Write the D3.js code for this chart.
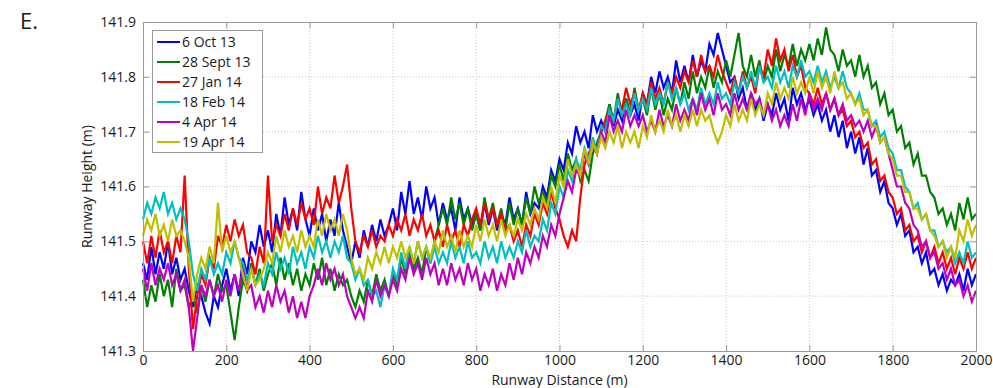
<!DOCTYPE html>
<html>
<head>
<meta charset="utf-8">
<script src="https://cdn.jsdelivr.net/npm/d3@7"></script>
<style>
  body { margin: 0; background: #fff; }
  svg { display: block; }
</style>
</head>
<body>
<div id="chart"></div>
<script>
let distances = d3.range(0, 2001, 10);

let oct13 = [
  141.46,141.43,141.49,141.44,141.48,141.45,141.50,141.44,141.47,141.43,
  141.45,141.41,141.38,141.42,141.40,141.37,141.35,141.40,141.38,141.42,
  141.45,141.41,141.44,141.40,141.47,141.44,141.50,141.48,141.53,141.49,
  141.52,141.48,141.55,141.51,141.58,141.53,141.56,141.52,141.59,141.54,
  141.51,141.56,141.52,141.55,141.50,141.54,141.51,141.57,141.52,141.49,
  141.46,141.50,141.47,141.52,141.49,141.53,141.50,141.54,141.51,141.53,
  141.56,141.52,141.59,141.55,141.61,141.55,141.58,141.54,141.60,141.56,
  141.58,141.53,141.57,141.54,141.56,141.52,141.58,141.54,141.56,141.53,
  141.55,141.52,141.57,141.53,141.56,141.52,141.55,141.53,141.58,141.54,
  141.56,141.53,141.59,141.55,141.57,141.56,141.60,141.58,141.63,141.61,
  141.65,141.63,141.68,141.66,141.71,141.68,141.70,141.67,141.73,141.70,
  141.72,141.70,141.75,141.71,141.74,141.72,141.76,141.73,141.75,141.72,
  141.77,141.75,141.80,141.77,141.81,141.78,141.80,141.77,141.83,141.79,
  141.82,141.79,141.84,141.80,141.83,141.81,141.86,141.84,141.88,141.85,
  141.82,141.79,141.80,141.76,141.78,141.74,141.77,141.74,141.76,141.72,
  141.75,141.73,141.77,141.74,141.76,141.72,141.78,141.75,141.77,141.74,
  141.76,141.73,141.75,141.72,141.74,141.70,141.73,141.69,141.72,141.67,
  141.70,141.66,141.69,141.64,141.67,141.62,141.63,141.59,141.61,141.57,
  141.56,141.53,141.55,141.51,141.52,141.48,141.49,141.46,141.48,141.44,
  141.45,141.42,141.44,141.41,141.43,141.42,141.44,141.41,141.45,141.42,
  141.44];

let sept13 = [
  141.43,141.38,141.42,141.39,141.44,141.40,141.43,141.38,141.45,141.41,
  141.42,141.38,141.40,141.37,141.42,141.39,141.43,141.40,141.44,141.41,
  141.42,141.37,141.32,141.38,141.43,141.41,141.46,141.42,141.45,141.41,
  141.44,141.46,141.42,141.47,141.43,141.46,141.42,141.45,141.41,141.44,
  141.42,141.46,141.43,141.47,141.42,141.45,141.41,141.44,141.42,141.43,
  141.40,141.38,141.41,141.39,141.43,141.40,141.44,141.41,141.43,141.40,
  141.44,141.42,141.47,141.44,141.48,141.45,141.47,141.44,141.49,141.46,
  141.50,141.53,141.56,141.53,141.58,141.54,141.57,141.53,141.56,141.52,
  141.55,141.52,141.58,141.54,141.57,141.53,141.56,141.52,141.57,141.53,
  141.56,141.53,141.58,141.55,141.60,141.57,141.59,141.57,141.62,141.60,
  141.64,141.61,141.66,141.63,141.65,141.61,141.63,141.61,141.66,141.68,
  141.70,141.72,141.75,141.72,141.77,141.73,141.76,141.73,141.78,141.74,
  141.76,141.73,141.78,141.74,141.77,141.73,141.76,141.74,141.78,141.75,
  141.79,141.76,141.81,141.77,141.80,141.78,141.82,141.78,141.81,141.79,
  141.83,141.80,141.84,141.88,141.82,141.80,141.84,141.80,141.83,141.79,
  141.82,141.80,141.85,141.81,141.84,141.82,141.86,141.82,141.85,141.83,
  141.86,141.83,141.87,141.84,141.89,141.85,141.84,141.81,141.85,141.82,
  141.83,141.80,141.84,141.80,141.82,141.78,141.79,141.75,141.77,141.73,
  141.74,141.70,141.71,141.67,141.68,141.64,141.66,141.62,141.62,141.59,
  141.58,141.55,141.56,141.53,141.55,141.52,141.57,141.54,141.58,141.54,
  141.55];

let jan14 = [
  141.50,141.46,141.51,141.47,141.52,141.48,141.50,141.46,141.51,141.48,
  141.62,141.45,141.34,141.40,141.44,141.42,141.47,141.45,141.51,141.49,
  141.53,141.50,141.54,141.51,141.53,141.48,141.47,141.44,141.49,141.46,
  141.62,141.50,141.53,141.51,141.55,141.52,141.56,141.53,141.57,141.54,
  141.56,141.53,141.60,141.55,141.58,141.56,141.62,141.57,141.60,141.64,
  141.56,141.50,141.48,141.51,141.49,141.52,141.49,141.51,141.50,141.53,
  141.51,141.54,141.52,141.55,141.51,141.54,141.52,141.55,141.51,141.53,
  141.50,141.52,141.49,141.53,141.50,141.52,141.49,141.53,141.51,141.54,
  141.56,141.53,141.57,141.54,141.56,141.53,141.55,141.52,141.53,141.50,
  141.52,141.49,141.53,141.51,141.55,141.53,141.57,141.55,141.59,141.56,
  141.54,141.51,141.49,141.52,141.50,141.58,141.64,141.66,141.68,141.66,
  141.70,141.72,141.74,141.72,141.76,141.74,141.78,141.75,141.77,141.74,
  141.77,141.75,141.79,141.76,141.78,141.75,141.79,141.77,141.80,141.78,
  141.81,141.79,141.83,141.80,141.84,141.81,141.82,141.80,141.84,141.81,
  141.79,141.77,141.80,141.77,141.81,141.78,141.80,141.77,141.82,141.80,
  141.85,141.82,141.87,141.83,141.85,141.81,141.84,141.80,141.82,141.78,
  141.77,141.75,141.78,141.75,141.77,141.74,141.76,141.73,141.74,141.71,
  141.72,141.69,141.70,141.67,141.68,141.64,141.65,141.61,141.62,141.59,
  141.58,141.55,141.56,141.52,141.53,141.50,141.51,141.48,141.50,141.47,
  141.49,141.46,141.48,141.45,141.47,141.44,141.47,141.45,141.48,141.45,
  141.47];

let feb14 = [
  141.54,141.57,141.55,141.58,141.56,141.59,141.55,141.57,141.54,141.56,
  141.54,141.50,141.44,141.41,141.45,141.43,141.47,141.44,141.46,141.44,
  141.48,141.46,141.50,141.47,141.46,141.43,141.45,141.42,141.44,141.42,
  141.46,141.44,141.48,141.45,141.47,141.44,141.49,141.46,141.48,141.45,
  141.49,141.47,141.51,141.48,141.50,141.47,141.50,141.48,141.51,141.47,
  141.46,141.43,141.45,141.42,141.43,141.40,141.41,141.38,141.42,141.40,
  141.45,141.43,141.48,141.45,141.49,141.46,141.50,141.47,141.49,141.46,
  141.49,141.46,141.48,141.46,141.50,141.47,141.49,141.46,141.50,141.47,
  141.48,141.46,141.50,141.47,141.49,141.46,141.50,141.47,141.49,141.47,
  141.50,141.48,141.52,141.49,141.51,141.50,141.54,141.52,141.57,141.55,
  141.60,141.58,141.63,141.61,141.65,141.63,141.67,141.65,141.69,141.66,
  141.71,141.70,141.74,141.72,141.76,141.73,141.75,141.73,141.77,141.74,
  141.76,141.74,141.78,141.75,141.77,141.75,141.79,141.76,141.78,141.75,
  141.77,141.74,141.76,141.74,141.78,141.75,141.77,141.75,141.79,141.76,
  141.77,141.75,141.79,141.77,141.80,141.78,141.81,141.78,141.82,141.79,
  141.80,141.78,141.82,141.79,141.81,141.78,141.82,141.80,141.83,141.80,
  141.81,141.79,141.82,141.79,141.81,141.78,141.80,141.78,141.81,141.78,
  141.77,141.75,141.77,141.74,141.74,141.71,141.72,141.69,141.70,141.67,
  141.66,141.63,141.63,141.60,141.59,141.56,141.57,141.54,141.55,141.52,
  141.52,141.49,141.50,141.48,141.49,141.46,141.48,141.46,141.50,141.47,
  141.48];

let apr4 = [
  141.45,141.41,141.46,141.42,141.45,141.43,141.46,141.42,141.44,141.41,
  141.43,141.38,141.30,141.36,141.42,141.40,141.43,141.40,141.42,141.39,
  141.43,141.40,141.44,141.41,141.45,141.41,141.42,141.38,141.40,141.37,
  141.41,141.38,141.42,141.39,141.41,141.37,141.40,141.36,141.39,141.36,
  141.40,141.42,141.45,141.42,141.46,141.43,141.45,141.42,141.44,141.40,
  141.38,141.36,141.38,141.36,141.41,141.39,141.43,141.40,141.42,141.40,
  141.43,141.41,141.45,141.43,141.47,141.44,141.46,141.43,141.47,141.44,
  141.46,141.42,141.45,141.42,141.46,141.43,141.45,141.42,141.46,141.43,
  141.45,141.41,141.44,141.42,141.45,141.41,141.44,141.42,141.46,141.43,
  141.47,141.44,141.48,141.46,141.49,141.47,141.51,141.49,141.53,141.51,
  141.55,141.58,141.61,141.59,141.63,141.62,141.66,141.64,141.68,141.66,
  141.70,141.68,141.73,141.70,141.72,141.70,141.74,141.71,141.73,141.71,
  141.73,141.70,141.72,141.70,141.74,141.71,141.73,141.71,141.75,141.72,
  141.74,141.72,141.76,141.73,141.77,141.74,141.76,141.73,141.77,141.74,
  141.75,141.73,141.77,141.74,141.76,141.74,141.77,141.75,141.76,141.73,
  141.75,141.72,141.74,141.71,141.73,141.71,141.75,141.72,141.76,141.73,
  141.77,141.74,141.76,141.74,141.77,141.74,141.76,141.73,141.75,141.72,
  141.73,141.71,141.72,141.70,141.72,141.69,141.71,141.68,141.69,141.66,
  141.63,141.60,141.60,141.57,141.56,141.53,141.52,141.49,141.50,141.47,
  141.48,141.45,141.46,141.43,141.45,141.42,141.43,141.40,141.42,141.39,
  141.41];

let apr19 = [
  141.51,141.54,141.52,141.55,141.51,141.53,141.50,141.54,141.51,141.52,
  141.50,141.47,141.39,141.44,141.47,141.45,141.49,141.46,141.57,141.48,
  141.51,141.48,141.50,141.47,141.44,141.41,141.45,141.42,141.43,141.45,
  141.48,141.46,141.51,141.48,141.52,141.49,141.51,141.48,141.52,141.49,
  141.51,141.49,141.54,141.51,141.55,141.52,141.54,141.51,141.55,141.52,
  141.47,141.44,141.45,141.43,141.47,141.45,141.48,141.46,141.49,141.46,
  141.49,141.47,141.50,141.47,141.49,141.46,141.50,141.47,141.49,141.47,
  141.50,141.48,141.52,141.49,141.51,141.48,141.52,141.49,141.51,141.49,
  141.53,141.50,141.54,141.51,141.53,141.50,141.54,141.51,141.53,141.51,
  141.54,141.52,141.55,141.53,141.56,141.54,141.58,141.56,141.60,141.57,
  141.62,141.60,141.65,141.62,141.64,141.62,141.67,141.64,141.68,141.66,
  141.69,141.67,141.70,141.68,141.71,141.67,141.70,141.68,141.70,141.67,
  141.71,141.69,141.73,141.70,141.72,141.70,141.74,141.71,141.73,141.70,
  141.73,141.71,141.74,141.71,141.74,141.72,141.73,141.70,141.68,141.70,
  141.73,141.71,141.75,141.72,141.74,141.72,141.76,141.73,141.75,141.73,
  141.77,141.75,141.79,141.76,141.78,141.76,141.80,141.77,141.79,141.77,
  141.80,141.77,141.81,141.78,141.80,141.77,141.81,141.78,141.79,141.76,
  141.77,141.75,141.76,141.73,141.74,141.71,141.71,141.68,141.69,141.66,
  141.65,141.62,141.62,141.59,141.59,141.56,141.56,141.54,141.55,141.52,
  141.51,141.49,141.50,141.47,141.49,141.47,141.52,141.50,141.54,141.51,
  141.53];

let seriesNames = ["6 Oct 13", "28 Sept 13", "27 Jan 14", "18 Feb 14", "4 Apr 14", "19 Apr 14"];
let seriesValues = [oct13, sept13, jan14, feb14, apr4, apr19];
let seriesColors = ["#0000ff", "#008000", "#ff0000", "#00bfbf", "#bf00bf", "#bfbf00"];

let xTicks = d3.range(0, 2001, 200);
let yTicks = [141.3, 141.4, 141.5, 141.6, 141.7, 141.8, 141.9];

let svgWidth = 993;
let svgHeight = 388;
let plotLeft = 143, plotRight = 976, plotTop = 22, plotBottom = 351;

let xScale = d3.scaleLinear().domain([0, 2000]).range([plotLeft, plotRight]);
let yScale = d3.scaleLinear().domain([141.3, 141.9]).range([plotBottom, plotTop]);

let svg = d3.select("#chart")
  .append("svg")
  .attr("width", svgWidth)
  .attr("height", svgHeight);

// dotted grid
svg.append("g")
  .selectAll("line")
  .data(xTicks.slice(1, -1))
  .enter()
  .append("line")
  .attr("x1", d => xScale(d)).attr("x2", d => xScale(d))
  .attr("y1", plotTop).attr("y2", plotBottom)
  .attr("stroke", "#c8c8c8")
  .attr("stroke-dasharray", "1,2");

svg.append("g")
  .selectAll("line")
  .data(yTicks.slice(1, -1))
  .enter()
  .append("line")
  .attr("x1", plotLeft).attr("x2", plotRight)
  .attr("y1", d => yScale(d)).attr("y2", d => yScale(d))
  .attr("stroke", "#c8c8c8")
  .attr("stroke-dasharray", "1,2");

// lines
let line = d3.line()
  .x((d, i) => xScale(distances[i]))
  .y(d => yScale(d));

svg.append("g")
  .selectAll("path")
  .data(seriesValues)
  .enter()
  .append("path")
  .attr("d", line)
  .attr("fill", "none")
  .attr("stroke", (d, i) => seriesColors[i])
  .attr("stroke-width", 2.2);

// axes (MATLAB style: ticks inside, box on)
let textFont = "'Open Sans', sans-serif";

function styleAxis(g) {
  g.select(".domain").attr("stroke", "#999");
  g.selectAll(".tick line").attr("stroke", "#999");
  g.selectAll(".tick text")
    .attr("font-family", textFont)
    .attr("font-size", 14)
    .attr("fill", "#1a1a1a");
}

svg.append("g")
  .attr("transform", `translate(0,${plotBottom})`)
  .call(d3.axisBottom(xScale).tickValues(xTicks).tickSize(-6).tickPadding(4).tickSizeOuter(0)
    .tickFormat(d3.format("d")))
  .call(styleAxis);

svg.append("g")
  .attr("transform", `translate(0,${plotTop})`)
  .call(d3.axisTop(xScale).tickValues(xTicks).tickSize(-6).tickFormat("").tickSizeOuter(0))
  .call(styleAxis);

svg.append("g")
  .attr("transform", `translate(${plotLeft},0)`)
  .call(d3.axisLeft(yScale).tickValues(yTicks).tickSize(-6).tickPadding(7).tickSizeOuter(0)
    .tickFormat(d3.format(".1f")))
  .call(styleAxis);

svg.append("g")
  .attr("transform", `translate(${plotRight},0)`)
  .call(d3.axisRight(yScale).tickValues(yTicks).tickSize(-6).tickFormat("").tickSizeOuter(0))
  .call(styleAxis);

// axis titles
svg.append("text")
  .attr("x", (plotLeft + plotRight) / 2)
  .attr("y", 385)
  .attr("text-anchor", "middle")
  .attr("font-family", textFont)
  .attr("font-size", 14)
  .attr("fill", "#1a1a1a")
  .text("Runway Distance (m)");

svg.append("text")
  .attr("transform", `translate(92,${(plotTop + plotBottom) / 2}) rotate(-90)`)
  .attr("text-anchor", "middle")
  .attr("font-family", textFont)
  .attr("font-size", 14)
  .attr("fill", "#1a1a1a")
  .text("Runway Height (m)");

svg.append("text")
  .attr("x", 20)
  .attr("y", 29)
  .attr("font-family", textFont)
  .attr("font-size", 22)
  .attr("fill", "#1a1a1a")
  .text("E.");

// legend
let legend = svg.append("g");
legend.append("rect")
  .attr("x", 152.5).attr("y", 30.5)
  .attr("width", 110).attr("height", 122)
  .attr("fill", "#fff")
  .attr("stroke", "#999");

let rows = legend.selectAll("g.row")
  .data(seriesNames)
  .enter()
  .append("g")
  .attr("transform", (d, i) => `translate(0,${42 + i * 20})`);

rows.append("line")
  .attr("x1", 157).attr("x2", 180)
  .attr("stroke", (d, i) => seriesColors[i])
  .attr("stroke-width", 2);

rows.append("text")
  .attr("x", 182)
  .attr("y", 5)
  .attr("font-family", textFont)
  .attr("font-size", 14)
  .attr("fill", "#1a1a1a")
  .text(d => d);
</script>
</body>
</html>
